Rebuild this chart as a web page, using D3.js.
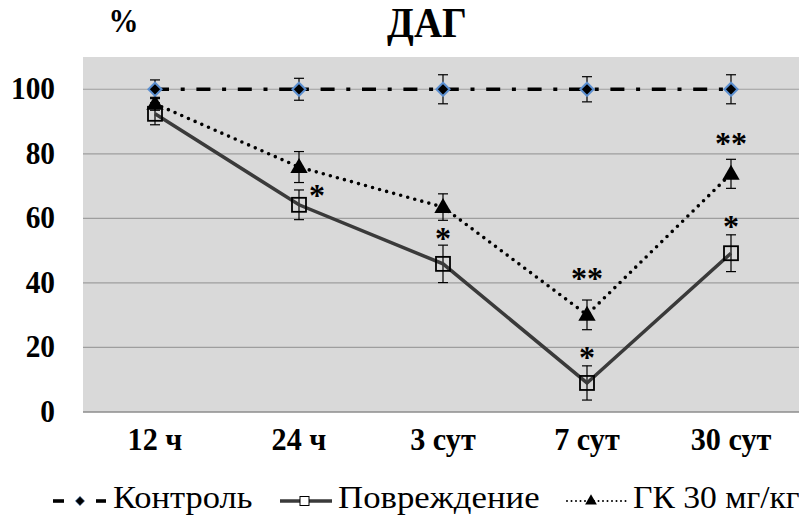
<!DOCTYPE html>
<html>
<head>
<meta charset="utf-8">
<script src="https://cdn.jsdelivr.net/npm/d3@7"></script>
<style>
  html, body { margin: 0; padding: 0; background: #fff; }
  svg { display: block; }
  svg text { font-family: "Liberation Serif", "Times New Roman", "Liberation Sans", serif; }
</style>
</head>
<body>
<svg id="chart" width="799" height="518"></svg>
<script>
// Time points and series (% of control)
const categories = ["12 ч", "24 ч", "3 сут", "7 сут", "30 сут"];
const yTicks = [0, 20, 40, 60, 80, 100];

const controlValues = [100, 100, 100, 100, 100];
const controlErrors = [2.9, 3.4, 4.5, 3.9, 4.5];

const injuryValues = [92.4, 64.2, 45.9, 9.0, 49.2];
const injuryErrors = [3.4, 4.6, 5.8, 5.3, 5.7];
const injuryMarks = ["", "*", "*", "*", "*"];

const gkValues = [95.5, 75.9, 63.5, 30.1, 73.8];
const gkErrors = [2.0, 4.8, 4.1, 4.6, 4.5];
const gkMarks = ["", "", "", "**", "**"];

const seriesNames = ["Контроль", "Повреждение", "ГК 30 мг/кг"];

const svg = d3.select("#chart");
const plot = { left: 83, top: 57, right: 803, bottom: 412 };

const x = d3.scaleBand().domain(categories).range([plot.left, plot.right]);
const cx = c => x(c) + x.bandwidth() / 2;
const y = d3.scaleLinear().domain([0, 110]).range([plot.bottom, plot.top]);

function label(g, tx, ty, text, opts) {
  const sx = opts.sx || 1, sy = opts.sy || 1.08;
  return g.append("text")
    .attr("transform", `translate(${tx},${ty}) scale(${sx},${sy})`)
    .attr("text-anchor", opts.anchor || "middle")
    .style("font-weight", opts.weight || "bold")
    .style("font-size", opts.size + "px")
    .attr("fill", "#000")
    .text(text);
}

// plot background
svg.append("rect")
  .attr("x", plot.left).attr("y", plot.top)
  .attr("width", plot.right - plot.left).attr("height", plot.bottom - plot.top)
  .attr("fill", "#d9d9d9");

// horizontal gridlines
svg.append("g").selectAll("line").data(yTicks.filter(t => t > 0)).join("line")
  .attr("x1", plot.left).attr("x2", plot.right)
  .attr("y1", d => y(d)).attr("y2", d => y(d))
  .attr("stroke", "#9e9e9e").attr("stroke-width", 1.2);

// category axis line
svg.append("line")
  .attr("x1", plot.left).attr("x2", plot.right)
  .attr("y1", y(0)).attr("y2", y(0))
  .attr("stroke", "#8c8c8c").attr("stroke-width", 1.5);

// y tick labels
const yl = svg.append("g");
yTicks.forEach(t => label(yl, 55, y(t) + 10, String(t), { anchor: "end", size: 28.5, sx: 1.03 }));

// x tick labels
const xl = svg.append("g");
categories.forEach(c => label(xl, cx(c), 450, c, { size: 28.5, sx: 1.06 }));

// title and unit
label(svg, 427, 37, "ДАГ", { size: 39 });
label(svg, 123.5, 32, "%", { size: 30, sy: 1.1 });

const line = d3.line().x(d => cx(d.c)).y(d => y(d.v));
const rows = vals => categories.map((c, i) => ({ c, v: vals[i] }));

// error bars
function errorBars(vals, errs) {
  const g = svg.append("g").attr("stroke", "#000").attr("stroke-width", 1.2);
  categories.forEach((c, i) => {
    const px = cx(c), hi = y(vals[i] + errs[i]), lo = y(vals[i] - errs[i]);
    g.append("line").attr("x1", px).attr("x2", px).attr("y1", hi).attr("y2", lo);
    g.append("line").attr("x1", px - 5).attr("x2", px + 5).attr("y1", hi).attr("y2", hi);
    g.append("line").attr("x1", px - 5).attr("x2", px + 5).attr("y1", lo).attr("y2", lo);
  });
}

errorBars(injuryValues, injuryErrors);
errorBars(gkValues, gkErrors);

// injury series: solid dark line
svg.append("path").datum(rows(injuryValues))
  .attr("d", line).attr("fill", "none")
  .attr("stroke", "#3a3a3a").attr("stroke-width", 3.5);

// GK series: round dots
svg.append("path").datum(rows(gkValues))
  .attr("d", line).attr("fill", "none")
  .attr("stroke", "#000").attr("stroke-width", 3.6)
  .attr("stroke-linecap", "round").attr("stroke-dasharray", "0,7.3");

// control series: dash-dot
errorBars(controlValues, controlErrors);
svg.append("path").datum(rows(controlValues))
  .attr("d", line).attr("fill", "none")
  .attr("stroke", "#000").attr("stroke-width", 3.6)
  .attr("stroke-dasharray", "14,11.7,4,11.7");

// markers
const diamond = d3.symbol().type(d3.symbolDiamond2).size(110);
const triangle = d3.symbol().type(d3.symbolTriangle).size(130);

svg.append("g").selectAll("rect").data(rows(injuryValues)).join("rect")
  .attr("x", d => cx(d.c) - 7).attr("y", d => y(d.v) - 7)
  .attr("width", 14).attr("height", 14)
  .attr("fill", "none").attr("stroke", "#000").attr("stroke-width", 1.8);

svg.append("g").selectAll("path").data(rows(gkValues)).join("path")
  .attr("transform", d => `translate(${cx(d.c)},${y(d.v) + 1})`)
  .attr("d", triangle).attr("fill", "#000");

svg.append("g").selectAll("path").data(rows(controlValues)).join("path")
  .attr("transform", d => `translate(${cx(d.c)},${y(d.v)})`)
  .attr("d", diamond).attr("fill", "#000")
  .attr("stroke", "#5b8fd0").attr("stroke-width", 2);

// significance marks, placed above the upper whisker
const injuryLift = [0, 0, -2, 0, 0];
const gkLift = [0, 0, 0, 13, 7];
const sig = svg.append("g");
categories.forEach((c, i) => {
  if (injuryMarks[i]) {
    if (i === 1) {
      label(sig, cx(c) + 18, y(injuryValues[i]) + 1, injuryMarks[i], { size: 32, sy: 1 });
    } else {
      const top = y(injuryValues[i] + injuryErrors[i]);
      label(sig, cx(c), top + 2 - injuryLift[i], injuryMarks[i], { size: 32, sy: 1 });
    }
  }
  if (gkMarks[i]) {
    const top = y(gkValues[i] + gkErrors[i]);
    label(sig, cx(c), top + 2 - gkLift[i], gkMarks[i], { size: 32, sy: 1 });
  }
});

// legend
const lg = svg.append("g");
const ly = 501;
// control
lg.append("line").attr("x1", 53).attr("x2", 64).attr("y1", ly).attr("y2", ly)
  .attr("stroke", "#000").attr("stroke-width", 3.6);
lg.append("line").attr("x1", 96).attr("x2", 106).attr("y1", ly).attr("y2", ly)
  .attr("stroke", "#000").attr("stroke-width", 3.6);
lg.append("path").attr("transform", `translate(80,${ly})`)
  .attr("d", d3.symbol().type(d3.symbolDiamond2).size(55))
  .attr("fill", "#000").attr("stroke", "#5b8fd0").attr("stroke-width", 0.6);
label(lg, 113, 508, seriesNames[0], { anchor: "start", weight: "normal", size: 30, sx: 1.15, sy: 1.07 });
// injury
lg.append("line").attr("x1", 280).attr("x2", 332).attr("y1", ly).attr("y2", ly)
  .attr("stroke", "#3a3a3a").attr("stroke-width", 3.5);
lg.append("rect").attr("x", 300).attr("y", ly - 4.5).attr("width", 9).attr("height", 9)
  .attr("fill", "#fff").attr("stroke", "#000").attr("stroke-width", 1);
label(lg, 338, 508, seriesNames[1], { anchor: "start", weight: "normal", size: 30, sx: 1.16, sy: 1.07 });
// GK
lg.append("line").attr("x1", 567).attr("x2", 626).attr("y1", ly).attr("y2", ly)
  .attr("stroke", "#000").attr("stroke-width", 2)
  .attr("stroke-linecap", "round").attr("stroke-dasharray", "0,4.5");
lg.append("path").attr("transform", `translate(591,${ly})`)
  .attr("d", d3.symbol().type(d3.symbolTriangle).size(60)).attr("fill", "#000");
label(lg, 633, 508, seriesNames[2], { anchor: "start", weight: "normal", size: 30, sx: 1.12, sy: 1.07 });
</script>
</body>
</html>
